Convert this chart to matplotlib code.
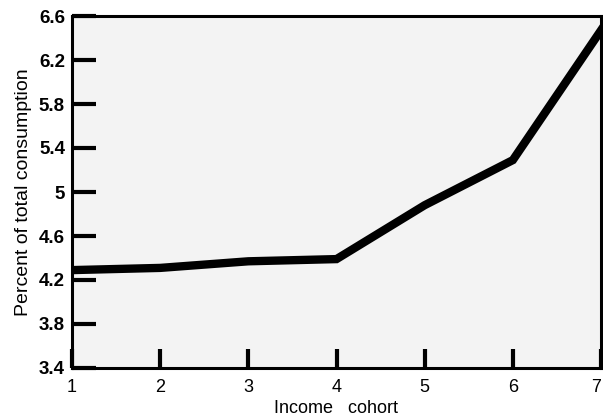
import matplotlib
matplotlib.use('Agg')
import matplotlib.pyplot as plt

# income cohorts and their share of total consumption (%)
cohort = [1, 2, 3, 4, 5, 6, 7]
share = [4.29, 4.31, 4.37, 4.39, 4.88, 5.29, 6.47]

x_ticks = [1, 2, 3, 4, 5, 6, 7]
y_ticks = [3.4, 3.8, 4.2, 4.6, 5.0, 5.4, 5.8, 6.2, 6.6]
y_labels = ['3.4', '3.8', '4.2', '4.6', '5', '5.4', '5.8', '6.2', '6.6']

plt.rcParams['font.family'] = ['Liberation Sans', 'DejaVu Sans']

fig = plt.figure(figsize=(6.03, 4.18), dpi=100)
ax = fig.add_axes([72 / 603, 50 / 418, 529 / 603, 352 / 418])
ax.set_facecolor('#f3f3f3')

ax.plot(cohort, share, color='black', linewidth=6, solid_joinstyle='miter')

ax.set_xlim(1, 7)
ax.set_ylim(3.4, 6.6)
ax.set_xticks(x_ticks)
ax.set_yticks(y_ticks)
ax.set_yticklabels(y_labels, fontweight='bold')

ax.tick_params(axis='y', direction='in', length=17, width=3, labelsize=13.5, pad=5)
ax.tick_params(axis='x', direction='in', length=14, width=3, labelsize=13, pad=8)
# keep the last cohort label inside the figure
ax.get_xticklabels()[-1].set_horizontalalignment('right')

for s in ax.spines.values():
    s.set_linewidth(2.2)

ax.set_xlabel('Income   cohort', fontsize=13, labelpad=3)
ax.set_ylabel('Percent of total consumption', fontsize=14, labelpad=5)

fig.savefig('out.png', dpi=100)
